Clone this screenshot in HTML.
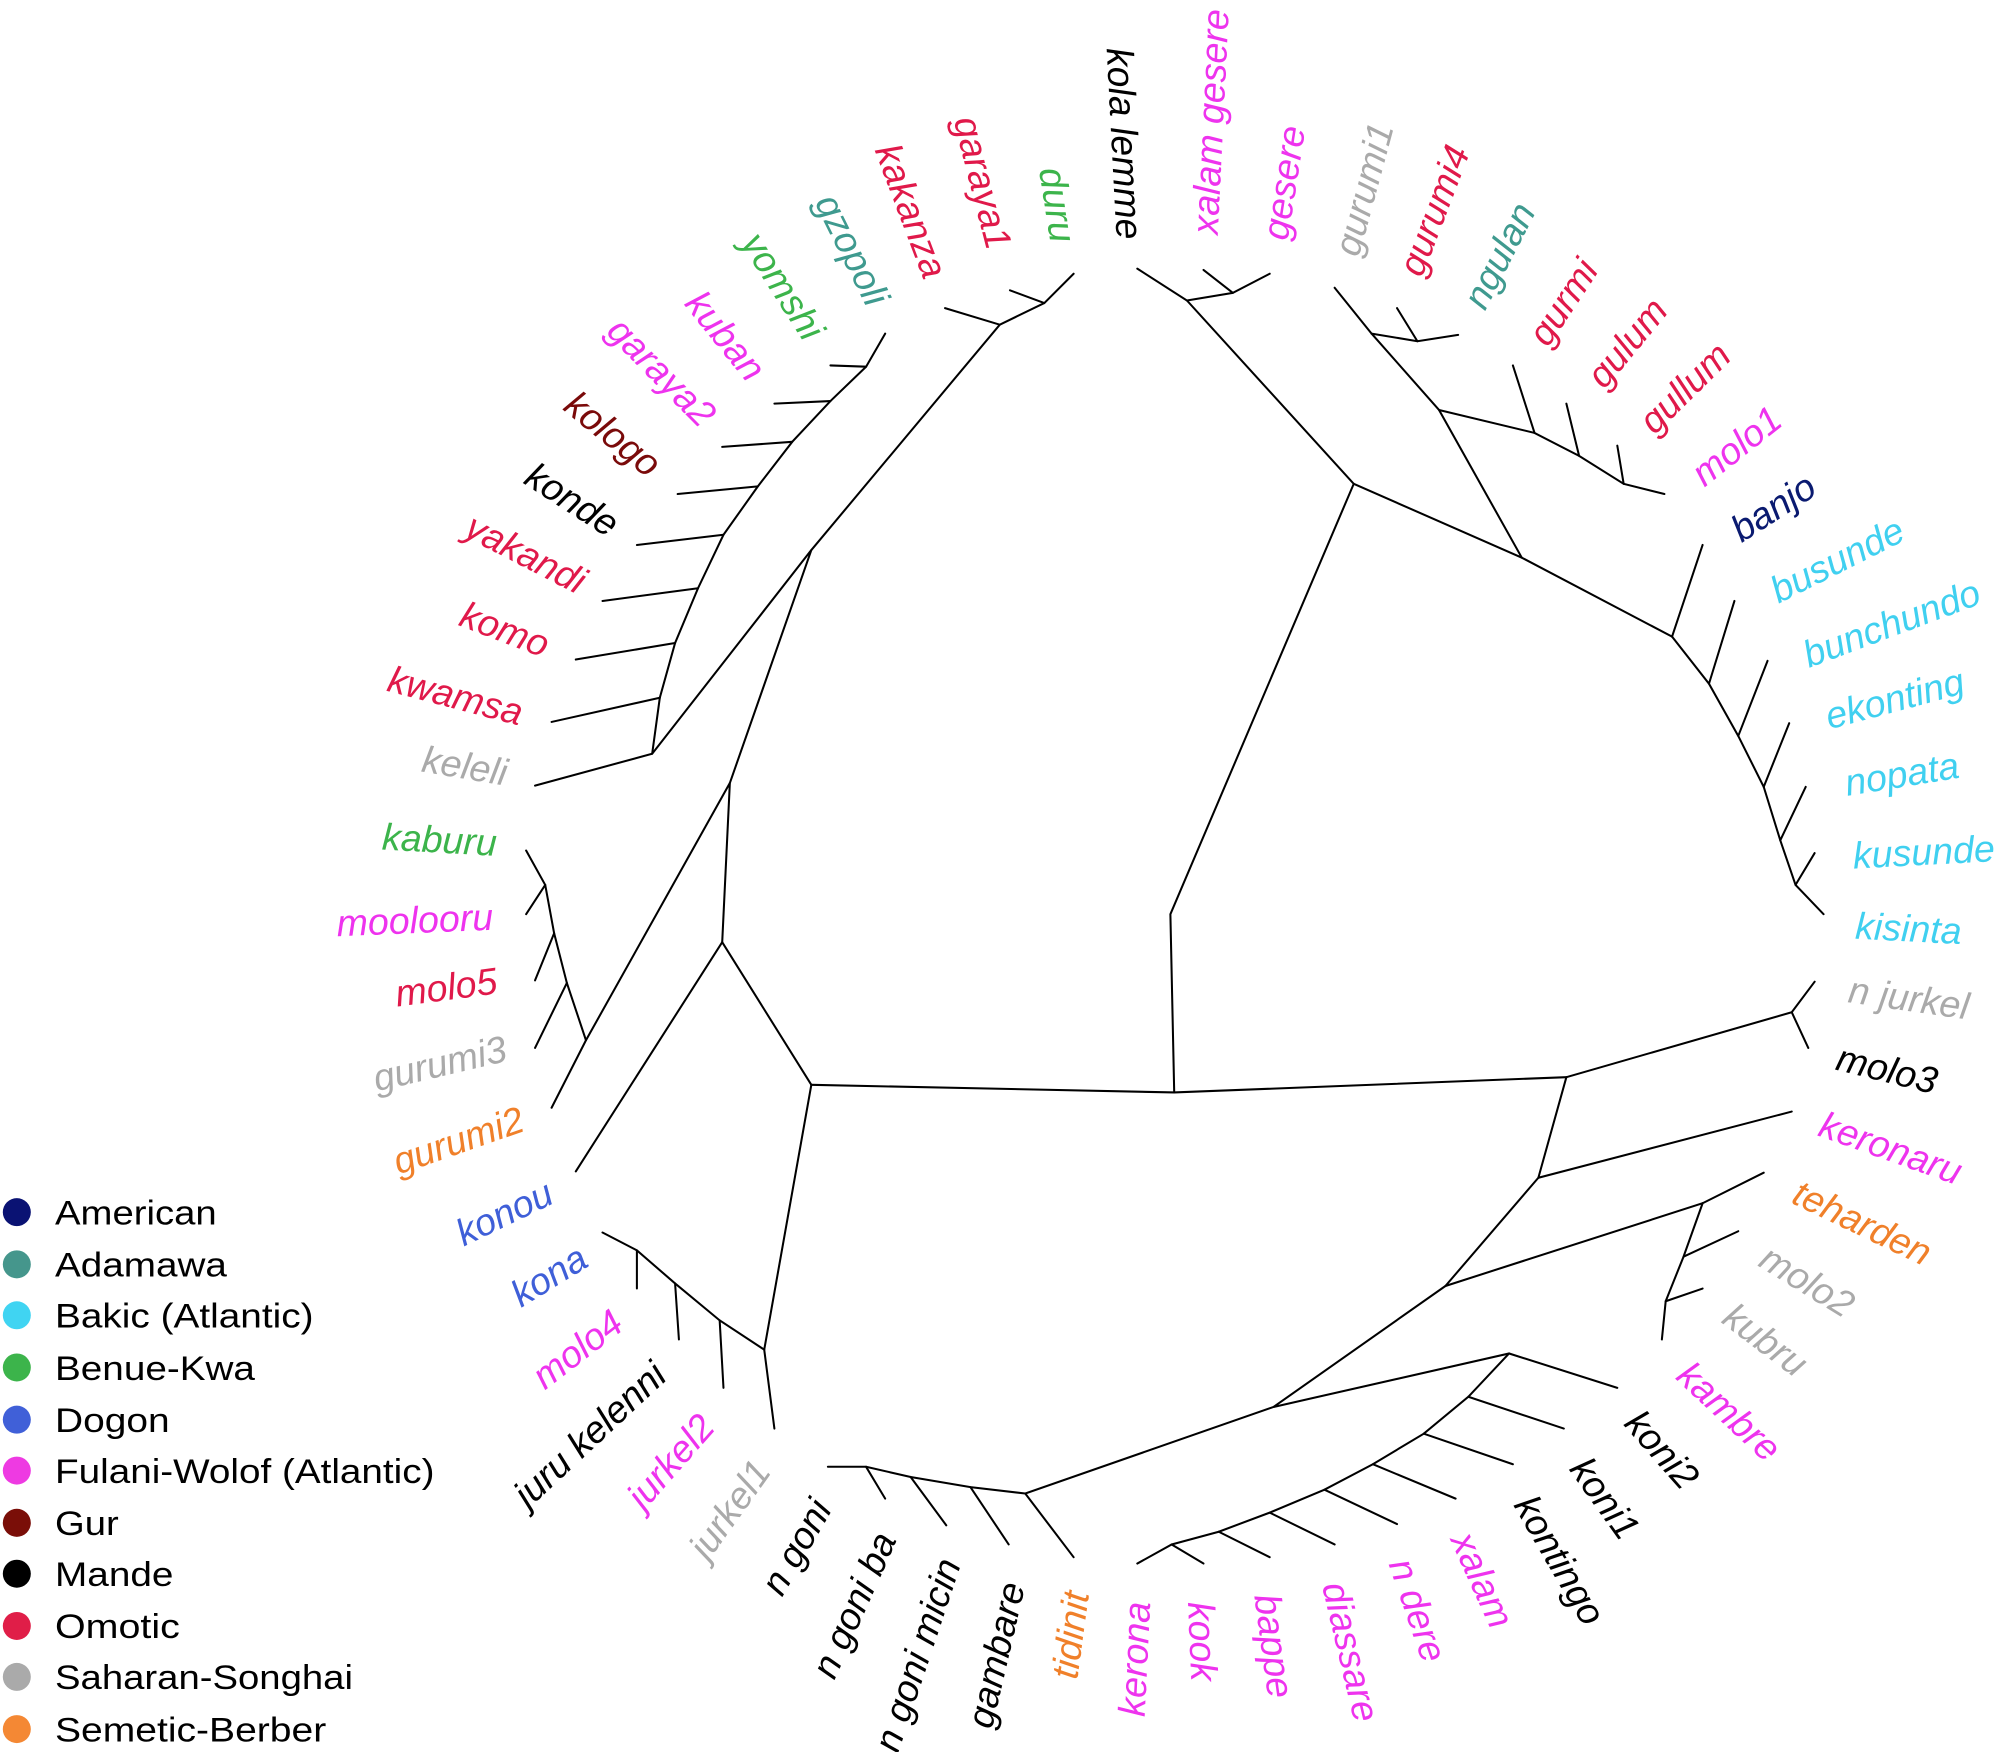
<!DOCTYPE html>
<html><head><meta charset="utf-8"><style>
html,body{margin:0;padding:0;background:#fff;}
svg{display:block;}
.l{font-family:"Liberation Sans",sans-serif;font-style:italic;font-size:29.5px;dominant-baseline:central;}
.r{text-anchor:start}.e{text-anchor:end}
.g{font-family:"Liberation Sans",sans-serif;font-size:27px;dominant-baseline:central;fill:#000}
</style></head><body>
<svg width="1997" height="1752" viewBox="0 0 1568 1376" xmlns="http://www.w3.org/2000/svg">
<g stroke="#000" stroke-width="1.6" fill="none" stroke-linecap="round">
<polyline points="637,852 922,858 1230,846"/>
<polyline points="922,858 919,718 1063,380 932,236 893,211"/>
<polyline points="932,236 968,230 997,215"/><line x1="945" y1="212" x2="968" y2="230"/>
<polyline points="1063,380 1195,438 1313,500"/>
<polyline points="1195,438 1130,322 1077,262 1048,226"/>
<polyline points="1077,262 1113,268 1145,263"/><line x1="1097" y1="242" x2="1113" y2="268"/>
<polyline points="1130,322 1205,340 1240,358 1275,380 1307,388"/>
<line x1="1205" y1="340" x2="1188" y2="287"/><line x1="1240" y1="358" x2="1230" y2="317"/><line x1="1275" y1="380" x2="1270" y2="350"/>
<polyline points="1313,500 1342,537 1365,578 1385,618 1398,660 1410,695 1432,718"/>
<line x1="1313" y1="500" x2="1337" y2="428"/><line x1="1342" y1="537" x2="1362" y2="472"/><line x1="1365" y1="578" x2="1388" y2="519"/><line x1="1385" y1="618" x2="1405" y2="568"/><line x1="1398" y1="660" x2="1418" y2="618"/><line x1="1410" y1="695" x2="1425" y2="670"/>
<polyline points="1230,846 1407,795 1425,771"/><line x1="1407" y1="795" x2="1420" y2="823"/>
<polyline points="1230,846 1208,925 1407,873"/>
<polyline points="1208,925 1135,1010 1337,945 1385,921"/>
<polyline points="1337,945 1322,987 1308,1022 1305,1052"/>
<line x1="1322" y1="987" x2="1365" y2="967"/><line x1="1308" y1="1022" x2="1337" y2="1012"/>
<polyline points="1135,1010 1000,1105 1185,1063 1270,1090"/>
<polyline points="1185,1063 1153,1097 1118,1126 1078,1150 1040,1170 997,1188 957,1203 920,1213 893,1228"/>
<line x1="1153" y1="1097" x2="1228" y2="1122"/><line x1="1118" y1="1126" x2="1188" y2="1150"/><line x1="1078" y1="1150" x2="1143" y2="1177"/><line x1="1040" y1="1170" x2="1097" y2="1197"/><line x1="997" y1="1188" x2="1048" y2="1213"/><line x1="957" y1="1203" x2="997" y2="1223"/><line x1="920" y1="1213" x2="945" y2="1228"/>
<polyline points="1000,1105 805,1173 843,1223"/>
<polyline points="805,1173 762,1168 715,1160 680,1152 650,1152"/>
<line x1="762" y1="1168" x2="792" y2="1213"/><line x1="715" y1="1160" x2="743" y2="1198"/><line x1="680" y1="1152" x2="695" y2="1177"/>
<polyline points="637,852 600,1060 608,1122"/>
<polyline points="600,1060 565,1037 530,1008 500,982 473,968"/>
<line x1="565" y1="1037" x2="568" y2="1090"/><line x1="530" y1="1008" x2="533" y2="1052"/><line x1="500" y1="982" x2="500" y2="1012"/>
<polyline points="637,852 567,740 452,920"/>
<polyline points="567,740 573,615 460,817 433,870"/>
<polyline points="460,817 445,772 435,733 428,695 413,668"/>
<line x1="445" y1="772" x2="420" y2="823"/><line x1="435" y1="733" x2="420" y2="770"/><line x1="428" y1="695" x2="413" y2="718"/>
<polyline points="573,615 637,432 512,592 420,617"/>
<polyline points="637,432 785,255 820,238 843,215"/><line x1="820" y1="238" x2="793" y2="228"/><line x1="785" y1="255" x2="742" y2="242"/>
<polyline points="512,592 518,548 530,505 548,462 568,420 595,382 622,347 652,315 680,288 695,262"/>
<line x1="518" y1="548" x2="433" y2="567"/><line x1="530" y1="505" x2="452" y2="518"/><line x1="548" y1="462" x2="473" y2="472"/><line x1="568" y1="420" x2="500" y2="428"/><line x1="595" y1="382" x2="532" y2="388"/><line x1="622" y1="347" x2="567" y2="351"/><line x1="652" y1="315" x2="608" y2="317"/><line x1="680" y1="288" x2="652" y2="287"/>
</g>
<g>
<text class="l e" fill="#3cb44b" transform="translate(390,662) rotate(3.2)">kaburu</text>
<text class="l e" fill="#aaaaaa" transform="translate(398,607) rotate(9.6)">keleli</text>
<text class="l e" fill="#e0194a" transform="translate(410,560) rotate(14.7)">kwamsa</text>
<text class="l e" fill="#e0194a" transform="translate(430,507) rotate(20.9)">komo</text>
<text class="l e" fill="#e0194a" transform="translate(458,458) rotate(27.3)">yakandi</text>
<text class="l e" fill="#000" transform="translate(483,414) rotate(32.8)">konde</text>
<text class="l e" fill="#7a0a0a" transform="translate(515,368) rotate(39)">kologo</text>
<text class="l e" fill="#ee33ee" transform="translate(557,330) rotate(45.4)">garaya2</text>
<text class="l e" fill="#ee33ee" transform="translate(595,295) rotate(51.1)">kuban</text>
<text class="l e" fill="#3cb44b" transform="translate(640,264) rotate(57.4)">yomshi</text>
<text class="l e" fill="#3f9a8f" transform="translate(690,238) rotate(63.6)">gzopoli</text>
<text class="l e" fill="#e0194a" transform="translate(735,217) rotate(69.3)">kakanza</text>
<text class="l e" fill="#e0194a" transform="translate(785,195) rotate(75.6)">garaya1</text>
<text class="l e" fill="#3cb44b" transform="translate(835,190) rotate(81.1)">duru</text>
<text class="l e" fill="#000" transform="translate(887,188) rotate(87)">kola lemme</text>
<text class="l r" fill="#ee33ee" transform="translate(946,184) rotate(-87.2)">xalam gesere</text>
<text class="l r" fill="#ee33ee" transform="translate(1001,188) rotate(-81.1)">gesere</text>
<text class="l r" fill="#aaaaaa" transform="translate(1057,200) rotate(-74.9)">gurumi1</text>
<text class="l r" fill="#e0194a" transform="translate(1107,215) rotate(-69.1)">gurumi4</text>
<text class="l r" fill="#3f9a8f" transform="translate(1157,240) rotate(-62.9)">ngulan</text>
<text class="l r" fill="#e0194a" transform="translate(1207,268) rotate(-56.6)">gurmi</text>
<text class="l r" fill="#e0194a" transform="translate(1252,300) rotate(-50.5)">gulum</text>
<text class="l r" fill="#e0194a" transform="translate(1292,335) rotate(-44.6)">gullum</text>
<text class="l r" fill="#ee33ee" transform="translate(1332,375) rotate(-38.4)">molo1</text>
<text class="l r" fill="#0a1a70" transform="translate(1362,418) rotate(-32.7)">banjo</text>
<text class="l r" fill="#40d0f0" transform="translate(1392,465) rotate(-26.6)">busunde</text>
<text class="l r" fill="#40d0f0" transform="translate(1417,515) rotate(-20.5)">bunchundo</text>
<text class="l r" fill="#40d0f0" transform="translate(1434,563) rotate(-15)">ekonting</text>
<text class="l r" fill="#40d0f0" transform="translate(1449,615) rotate(-9.2)">nopata</text>
<text class="l r" fill="#40d0f0" transform="translate(1455,672) rotate(-3)">kusunde</text>
<text class="l r" fill="#40d0f0" transform="translate(1457,727) rotate(2.9)">kisinta</text>
<text class="l r" fill="#aaaaaa" transform="translate(1452,777) rotate(8.2)">n jurkel</text>
<text class="l r" fill="#000" transform="translate(1443,830) rotate(14)">molo3</text>
<text class="l r" fill="#ee33ee" transform="translate(1430,882) rotate(19.6)">keronaru</text>
<text class="l r" fill="#f0802a" transform="translate(1410,935) rotate(25.6)">teharden</text>
<text class="l r" fill="#aaaaaa" transform="translate(1385,985) rotate(31.5)">molo2</text>
<text class="l r" fill="#aaaaaa" transform="translate(1357,1030) rotate(37)">kubru</text>
<text class="l r" fill="#ee33ee" transform="translate(1322,1075) rotate(43)">kambre</text>
<text class="l r" fill="#000" transform="translate(1282,1112) rotate(48.7)">koni2</text>
<text class="l r" fill="#000" transform="translate(1240,1148) rotate(54.5)">koni1</text>
<text class="l r" fill="#000" transform="translate(1197,1177) rotate(59.9)">kontingo</text>
<text class="l r" fill="#ee33ee" transform="translate(1148,1205) rotate(65.7)">xalam</text>
<text class="l r" fill="#ee33ee" transform="translate(1100,1225) rotate(71.1)">n dere</text>
<text class="l r" fill="#ee33ee" transform="translate(1048,1243) rotate(76.7)">diassare</text>
<text class="l r" fill="#ee33ee" transform="translate(995,1252) rotate(82.3)">bappe</text>
<text class="l r" fill="#ee33ee" transform="translate(943,1258) rotate(87.6)">kook</text>
<text class="l e" fill="#ee33ee" transform="translate(893,1258) rotate(-87.2)">kerona</text>
<text class="l e" fill="#f0802a" transform="translate(845,1250) rotate(-82.2)">tidinit</text>
<text class="l e" fill="#000" transform="translate(795,1243) rotate(-77)">gambare</text>
<text class="l e" fill="#000" transform="translate(745,1225) rotate(-71.6)">n goni micin</text>
<text class="l e" fill="#000" transform="translate(695,1205) rotate(-66)">n goni ba</text>
<text class="l e" fill="#000" transform="translate(645,1180) rotate(-60.2)">n goni</text>
<text class="l e" fill="#aaaaaa" transform="translate(598,1150) rotate(-54.4)">jurkel1</text>
<text class="l e" fill="#ee33ee" transform="translate(555,1115) rotate(-48.7)">jurkel2</text>
<text class="l e" fill="#000" transform="translate(518,1075) rotate(-43)">juru kelenni</text>
<text class="l e" fill="#ee33ee" transform="translate(485,1035) rotate(-37.6)">molo4</text>
<text class="l e" fill="#3f5fd8" transform="translate(458,985) rotate(-31.7)">kona</text>
<text class="l e" fill="#3f5fd8" transform="translate(432,935) rotate(-25.7)">konou</text>
<text class="l e" fill="#f0802a" transform="translate(410,878) rotate(-19.2)">gurumi2</text>
<text class="l e" fill="#aaaaaa" transform="translate(397,823) rotate(-13.2)">gurumi3</text>
<text class="l e" fill="#e0194a" transform="translate(390,770) rotate(-7.5)">molo5</text>
<text class="l e" fill="#ee33ee" transform="translate(387,720) rotate(-2.4)">moolooru</text>
</g>
<g>
<circle cx="13" cy="952" r="11" fill="#0a1273"/><text class="g" x="43" y="953" textLength="127" lengthAdjust="spacingAndGlyphs">American</text>
<circle cx="13" cy="993" r="11" fill="#45968c"/><text class="g" x="43" y="994" textLength="135" lengthAdjust="spacingAndGlyphs">Adamawa</text>
<circle cx="13" cy="1033" r="11" fill="#40d4f2"/><text class="g" x="43" y="1034" textLength="203" lengthAdjust="spacingAndGlyphs">Bakic (Atlantic)</text>
<circle cx="13" cy="1074" r="11" fill="#3cb44b"/><text class="g" x="43" y="1075" textLength="157" lengthAdjust="spacingAndGlyphs">Benue-Kwa</text>
<circle cx="13" cy="1115" r="11" fill="#4060d8"/><text class="g" x="43" y="1116" textLength="90" lengthAdjust="spacingAndGlyphs">Dogon</text>
<circle cx="13" cy="1155" r="11" fill="#ee3ae2"/><text class="g" x="43" y="1156" textLength="298" lengthAdjust="spacingAndGlyphs">Fulani-Wolof (Atlantic)</text>
<circle cx="13" cy="1196" r="11" fill="#7a0e08"/><text class="g" x="43" y="1197" textLength="50" lengthAdjust="spacingAndGlyphs">Gur</text>
<circle cx="13" cy="1236" r="11" fill="#000"/><text class="g" x="43" y="1237" textLength="93" lengthAdjust="spacingAndGlyphs">Mande</text>
<circle cx="13" cy="1277" r="11" fill="#e01e48"/><text class="g" x="43" y="1278" textLength="98" lengthAdjust="spacingAndGlyphs">Omotic</text>
<circle cx="13" cy="1317" r="11" fill="#aaaaaa"/><text class="g" x="43" y="1318" textLength="234" lengthAdjust="spacingAndGlyphs">Saharan-Songhai</text>
<circle cx="13" cy="1358" r="11" fill="#f48834"/><text class="g" x="43" y="1359" textLength="213" lengthAdjust="spacingAndGlyphs">Semetic-Berber</text>
</g>
</svg>
</body></html>
